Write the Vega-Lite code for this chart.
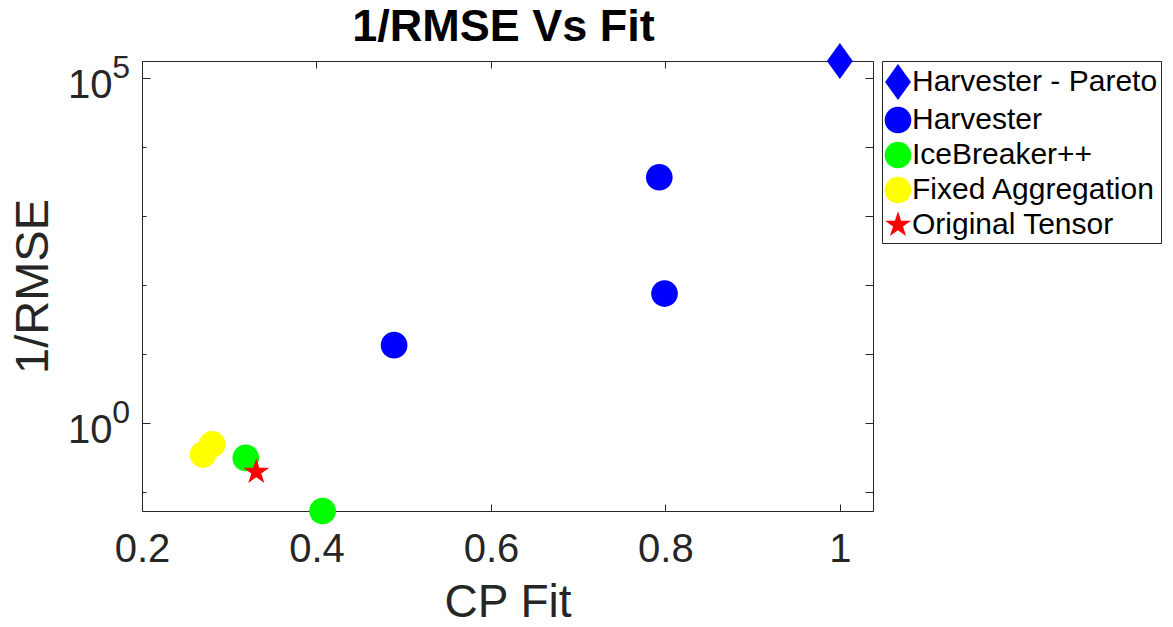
{
  "$schema": "https://vega.github.io/schema/vega-lite/v6.json",
  "width": 731,
  "height": 450,
  "autosize": {"type": "none"},
  "padding": {"left": 142, "top": 61, "right": 300, "bottom": 116},
  "title": {"text": "1/RMSE Vs Fit", "fontSize": 45, "fontWeight": "bold", "font": "Liberation Sans", "color": "black", "offset": 5, "dy": 12, "dx": -4},
  "data": {
    "values": [
      {"method": "Harvester - Pareto", "fit": 1.0, "inv_rmse": 176000},
      {"method": "Harvester", "fit": 0.793, "inv_rmse": 3640},
      {"method": "Harvester", "fit": 0.799, "inv_rmse": 75},
      {"method": "Harvester", "fit": 0.489, "inv_rmse": 13.4},
      {"method": "IceBreaker++", "fit": 0.319, "inv_rmse": 0.311},
      {"method": "IceBreaker++", "fit": 0.407, "inv_rmse": 0.053},
      {"method": "Fixed Aggregation", "fit": 0.27, "inv_rmse": 0.348},
      {"method": "Fixed Aggregation", "fit": 0.2805, "inv_rmse": 0.491},
      {"method": "Original Tensor", "fit": 0.331, "inv_rmse": 0.195}
    ]
  },
  "config": {
    "font": "Liberation Sans",
    "view": {"stroke": "#262626", "strokeWidth": 1},
    "axis": {"labelFont": "Liberation Sans", "titleFont": "Liberation Sans", "labelColor": "#262626", "titleColor": "#262626", "tickColor": "#262626", "tickWidth": 1, "grid": false, "domain": false, "labelFlush": false, "labelOverlap": false},
    "legend": {"orient": "right", "offset": 8, "padding": 3, "strokeColor": "#262626", "fillColor": "white", "cornerRadius": 0, "labelFontSize": 30, "labelColor": "black", "labelFont": "Liberation Sans", "symbolSize": 1296, "symbolStrokeWidth": 0, "symbolOpacity": 1, "rowPadding": 2, "labelOffset": -4, "symbolOffset": -5, "labelLimit": 400}
  },
  "layer": [
    {
      "mark": {"type": "point", "filled": true, "opacity": 1, "size": 1296, "strokeWidth": 0},
      "encoding": {
        "x": {"field": "fit", "type": "quantitative", "scale": {"domain": [0.2, 1.038], "nice": false, "zero": false},
          "axis": {"orient": "bottom", "values": [0.2, 0.4, 0.6, 0.8, 1], "format": "~g", "ticks": false, "labelFontSize": 40, "labelBaseline": "middle", "labelPadding": 38, "title": "CP Fit", "titleFontSize": 46, "titleFontWeight": "normal", "titlePadding": 11}},
        "y": {"field": "inv_rmse", "type": "quantitative", "scale": {"type": "log", "domain": [0.053, 176000], "nice": false},
          "axis": {"orient": "left", "values": [1, 100000], "labelExpr": "'10'", "ticks": false, "labelFontSize": 40, "labelBaseline": "middle", "labelOffset": 7.7, "labelPadding": 30, "title": "1/RMSE", "titleFontSize": 47, "titleFontWeight": "normal", "titlePadding": 10}},
        "color": {"field": "method", "type": "nominal", "legend": {"title": null},
          "scale": {"domain": ["Harvester - Pareto", "Harvester", "IceBreaker++", "Fixed Aggregation", "Original Tensor"], "range": ["#0000ff", "#0000ff", "#00ff00", "#ffff00", "#ff0000"]}},
        "shape": {"field": "method", "type": "nominal", "legend": {"title": null},
          "scale": {"domain": ["Harvester - Pareto", "Harvester", "IceBreaker++", "Fixed Aggregation", "Original Tensor"],
            "range": [
              "M0,-1L0.72,0L0,1L-0.72,0Z",
              "M0.742,0A0.742,0.742,0,1,1,-0.742,0A0.742,0.742,0,1,1,0.742,0Z",
              "M0.742,0A0.742,0.742,0,1,1,-0.742,0A0.742,0.742,0,1,1,0.742,0Z",
              "M0.742,0A0.742,0.742,0,1,1,-0.742,0A0.742,0.742,0,1,1,0.742,0Z",
              "M0,-0.761L0.1708,-0.2352L0.7237,-0.2352L0.2765,0.0898L0.4475,0.6157L0,0.2907L-0.4475,0.6157L-0.2765,0.0898L-0.7237,-0.2352L-0.1708,-0.2352Z"
            ]}}
      }
    },
    {
      "mark": {"type": "point", "opacity": 0},
      "encoding": {
        "x": {"field": "fit", "type": "quantitative", "scale": {"domain": [0.2, 1.038], "nice": false, "zero": false},
          "axis": {"orient": "top", "values": [0.2, 0.4, 0.6, 0.8, 1], "labels": false, "tickSize": -7, "title": null}},
        "y": {"field": "inv_rmse", "type": "quantitative", "scale": {"type": "log", "domain": [0.053, 176000], "nice": false},
          "axis": {"orient": "left", "values": [1, 100000], "labelExpr": "datum.value >= 10 ? '5' : '0'", "ticks": false, "labelFontSize": 32, "labelBaseline": "middle", "labelOffset": -10.4, "labelPadding": 12.5, "title": null}}
      }
    },
    {
      "mark": {"type": "point", "opacity": 0},
      "encoding": {
        "x": {"field": "fit", "type": "quantitative", "scale": {"domain": [0.2, 1.038], "nice": false, "zero": false},
          "axis": {"orient": "bottom", "values": [0.2, 0.4, 0.6, 0.8, 1], "labels": false, "tickSize": -7, "title": null}},
        "y": {"field": "inv_rmse", "type": "quantitative", "scale": {"type": "log", "domain": [0.053, 176000], "nice": false},
          "axis": {"orient": "left", "values": [1, 100000], "labels": false, "tickSize": -8, "title": null}}
      }
    },
    {
      "mark": {"type": "point", "opacity": 0},
      "encoding": {
        "x": {"field": "fit", "type": "quantitative", "scale": {"domain": [0.2, 1.038], "nice": false, "zero": false}, "axis": null},
        "y": {"field": "inv_rmse", "type": "quantitative", "scale": {"type": "log", "domain": [0.053, 176000], "nice": false},
          "axis": {"orient": "left", "values": [0.1, 10, 100, 1000, 10000], "labels": false, "tickSize": -4, "title": null}}
      }
    },
    {
      "mark": {"type": "point", "opacity": 0},
      "encoding": {
        "x": {"field": "fit", "type": "quantitative", "scale": {"domain": [0.2, 1.038], "nice": false, "zero": false}, "axis": null},
        "y": {"field": "inv_rmse", "type": "quantitative", "scale": {"type": "log", "domain": [0.053, 176000], "nice": false},
          "axis": {"orient": "right", "values": [0.1, 1, 10, 100, 1000, 10000, 100000], "labels": false, "tickSize": -8, "title": null}}
      }
    }
  ],
  "resolve": {"axis": {"x": "independent", "y": "independent"}}
}
